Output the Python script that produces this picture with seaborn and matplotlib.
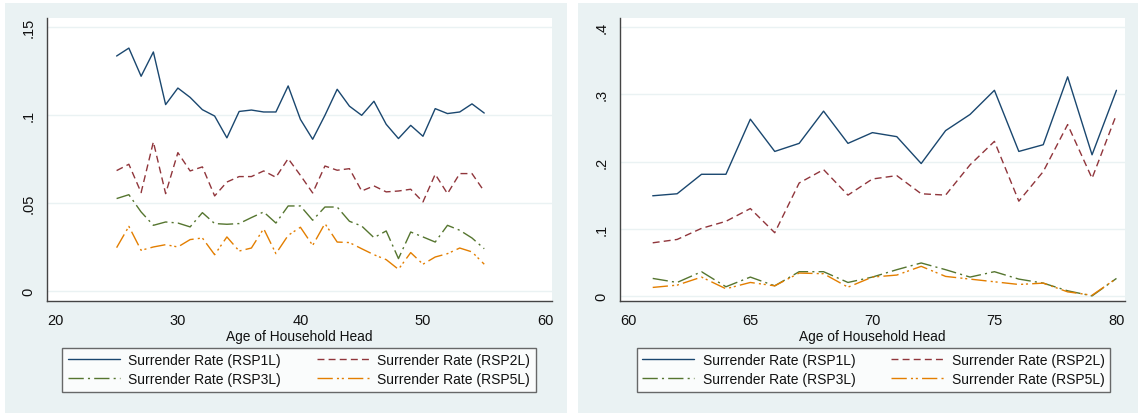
import matplotlib
matplotlib.use("Agg")
import matplotlib.pyplot as plt
from matplotlib.patches import Rectangle
from matplotlib.lines import Line2D
import seaborn as sns
import pandas as pd

# ---------------- data ----------------
ages_young = list(range(25, 56))
rsp1_young = [0.1335, 0.138, 0.122, 0.1358, 0.1059, 0.1153, 0.110, 0.103, 0.0994, 0.087,
              0.102, 0.1028, 0.1017, 0.1017, 0.1165, 0.0975, 0.0862, 0.0998, 0.1146, 0.105,
              0.0998, 0.1078, 0.0947, 0.0866, 0.0941, 0.0879, 0.1036, 0.1008, 0.1017, 0.1063, 0.1011]
rsp2_young = [0.0684, 0.072, 0.0559, 0.0847, 0.0553, 0.0786, 0.0682, 0.0705, 0.054, 0.0619,
              0.065, 0.065, 0.0682, 0.0646, 0.0752, 0.0657, 0.0557, 0.071, 0.0686, 0.0695,
              0.0568, 0.0597, 0.0563, 0.0568, 0.0578, 0.0506, 0.0663, 0.0553, 0.0667, 0.0667, 0.0566]
rsp3_young = [0.0525, 0.0547, 0.0449, 0.0373, 0.0392, 0.0386, 0.0364, 0.0445, 0.0383, 0.0379,
              0.0383, 0.0417, 0.0449, 0.0386, 0.0483, 0.0483, 0.0402, 0.0477, 0.0477, 0.0396,
              0.0369, 0.0303, 0.0341, 0.0184, 0.0335, 0.0307, 0.0278, 0.0373, 0.0345, 0.0301, 0.024]
rsp5_young = [0.0246, 0.0367, 0.0231, 0.025, 0.0263, 0.025, 0.0292, 0.0301, 0.0206, 0.0307,
              0.0227, 0.0244, 0.0354, 0.0212, 0.0316, 0.0362, 0.0259, 0.0383, 0.0278, 0.0275,
              0.024, 0.0206, 0.0178, 0.0123, 0.0218, 0.0152, 0.0193, 0.0212, 0.0244, 0.0222, 0.0152]

ages_old = list(range(61, 81))
rsp1_old = [0.149, 0.152, 0.181, 0.181, 0.263, 0.215, 0.227, 0.275, 0.227, 0.243,
            0.237, 0.197, 0.246, 0.270, 0.306, 0.215, 0.225, 0.326, 0.210, 0.306]
rsp2_old = [0.079, 0.084, 0.1005, 0.111, 0.130, 0.094, 0.168, 0.188, 0.150, 0.174,
            0.179, 0.152, 0.150, 0.195, 0.230, 0.141, 0.185, 0.255, 0.175, 0.270]
rsp3_old = [0.026, 0.020, 0.036, 0.0136, 0.028, 0.015, 0.036, 0.036, 0.020, 0.028,
            0.039, 0.049, 0.039, 0.028, 0.036, 0.025, 0.019, 0.0076, 0.0, 0.026]
rsp5_old = [0.0126, 0.016, 0.028, 0.0106, 0.020, 0.015, 0.034, 0.033, 0.013, 0.028,
            0.031, 0.044, 0.029, 0.025, 0.021, 0.017, 0.019, 0.006, 0.001, 0.026]

series_names = ["Surrender Rate (RSP1L)", "Surrender Rate (RSP2L)",
                "Surrender Rate (RSP3L)", "Surrender Rate (RSP5L)"]

yticks_left = [0, 0.05, 0.10, 0.15]
yticklabels_left = ["0", ".05", ".1", ".15"]
xticks_left = [20, 30, 40, 50, 60]
yticks_right = [0, 0.1, 0.2, 0.3, 0.4]
yticklabels_right = ["0", ".1", ".2", ".3", ".4"]
xticks_right = [60, 65, 70, 75, 80]
xlabel = "Age of Household Head"

# ---------------- style ----------------
sns.set_style("white")
plt.rcParams["font.family"] = ["Liberation Sans", "DejaVu Sans"]

colors = {series_names[0]: "#1A476F", series_names[1]: "#90353B",
          series_names[2]: "#55752F", series_names[3]: "#E37E00"}
dashes = {series_names[0]: "",
          series_names[1]: (5, 3),
          series_names[2]: (11, 3, 1.5, 3),
          series_names[3]: (11, 3, 1.5, 2, 1.5, 3)}

BG = "#EAF2F3"
AXC = "#444444"
TXT = "#111111"
W, H = 1138, 414

fig = plt.figure(figsize=(W / 100, H / 100), dpi=100, facecolor="white")
# panel backgrounds
fig.patches.append(Rectangle((5 / W, 0), (567 - 5) / W, 1 - 4 / H, transform=fig.transFigure,
                             facecolor=BG, edgecolor="none", zorder=-10))
fig.patches.append(Rectangle((578 / W, 0), (1138 - 578) / W, 1 - 4 / H, transform=fig.transFigure,
                             facecolor=BG, edgecolor="none", zorder=-10))


def make_df(ages, s1, s2, s3, s5):
    rows = []
    for name, vals in zip(series_names, [s1, s2, s3, s5]):
        for a, v in zip(ages, vals):
            rows.append({"age": a, "rate": v, "series": name})
    return pd.DataFrame(rows)


def draw(ax_rect, df, xlim, ylim, xticks, yticks, yticklabels, leg_center):
    ax = fig.add_axes(ax_rect)
    ax.set_facecolor("white")
    for y in yticks:
        ax.axhline(y, color=BG, lw=1.0, zorder=0)
    sns.lineplot(data=df, x="age", y="rate", hue="series", style="series",
                 palette=colors, dashes=dashes, hue_order=series_names,
                 style_order=series_names, lw=1.0, legend=False, ax=ax)
    ax.set_xlim(*xlim)
    ax.set_ylim(*ylim)
    ax.set_xticks(xticks)
    ax.set_xticklabels([str(t) for t in xticks], fontsize=10.5)
    ax.set_yticks(yticks)
    ax.set_yticklabels(yticklabels, fontsize=10.5, rotation=90, va="center")
    ax.set_xlabel(xlabel, fontsize=9.9, labelpad=1.5, color=TXT)
    ax.set_ylabel("")
    for s in ["top", "right"]:
        ax.spines[s].set_visible(False)
    for s in ["left", "bottom"]:
        ax.spines[s].set_color(AXC)
        ax.spines[s].set_linewidth(1.0)
    ax.tick_params(axis="x", direction="out", length=4.5, width=1.0, color=AXC,
                   labelcolor=TXT, pad=4)
    ax.tick_params(axis="y", direction="out", length=5.5, width=1.0, color=AXC,
                   labelcolor=TXT, pad=3)

    # row-wise order: column 1 = RSP1L, RSP3L ; column 2 = RSP2L, RSP5L
    order = [0, 2, 1, 3]
    handles = [Line2D([], [], color=colors[series_names[i]],
                      linestyle=(0, dashes[series_names[i]]) if dashes[series_names[i]] else "-",
                      lw=1.0)
               for i in order]
    labels = [series_names[i] for i in order]
    leg = fig.legend(handles, labels, loc="center",
                     bbox_to_anchor=leg_center, bbox_transform=fig.transFigure,
                     ncol=2, fontsize=10, frameon=True, fancybox=False,
                     handlelength=3.75, handletextpad=0.6, columnspacing=2.6,
                     labelspacing=0.36, borderpad=0.38, borderaxespad=0)
    leg.get_frame().set_edgecolor(AXC)
    leg.get_frame().set_linewidth(1.0)
    leg.get_frame().set_facecolor("white")
    for t in leg.get_texts():
        t.set_color(TXT)
    return ax


df_y = make_df(ages_young, rsp1_young, rsp2_young, rsp3_young, rsp5_young)
df_o = make_df(ages_old, rsp1_old, rsp2_old, rsp3_old, rsp5_old)

# left panel
draw([47 / W, 1 - 302 / H, (552 - 47) / W, (302 - 19) / H], df_y,
     (19.32, 60.53), (-0.0057, 0.1551), xticks_left, yticks_left, yticklabels_left,
     ((60 + 538) / 2 / W, 1 - 370.8 / H))

# right panel
draw([620 / W, 1 - 302 / H, (1125 - 620) / W, (302 - 19) / H], df_o,
     (59.66, 80.35), (-0.0076, 0.4136), xticks_right, yticks_right, yticklabels_right,
     ((634 + 1113) / 2 / W, 1 - 370.8 / H))

fig.savefig("out.png", dpi=100, facecolor="white")
